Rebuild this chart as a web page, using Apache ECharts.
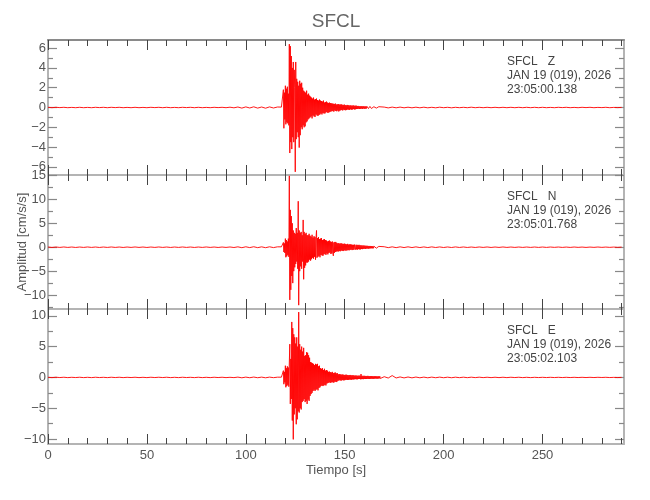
<!DOCTYPE html>
<html><head><meta charset="utf-8">
<script src="https://cdn.jsdelivr.net/npm/echarts@6/dist/echarts.min.js"></script>
<style>html,body{margin:0;padding:0;background:#fff}#c{width:650px;height:500px}</style>
</head><body><div id="c"></div>
<script>
// ---- time sampling of the hand-read traces ----
const PRE_T0 = 0, PRE_DT = 2;        // 0..116 s
const EV_T0 = 118, EV_DT = 0.25;     // 118..168 s
const POST_T0 = 170, POST_DT = 2;    // 170..290 s
const X_MAX = 291.2;

// ---- tick labels ----
const xMajorTicks = [0, 50, 100, 150, 200, 250];
const xMinorTicks = [10,20,30,40,60,70,80,90,110,120,130,140,160,170,180,190,210,220,230,240,260,270,280,290];
const zTicks = [-6, -4, -2, 0, 2, 4, 6];
const zMinor = [-5, -3, -1, 1, 3, 5];
const nTicks = [-10, -5, 0, 5, 10, 15];
const nMinor = [-12.5, -7.5, -2.5, 2.5, 7.5, 12.5];
const eTicks = [-10, -5, 0, 5, 10];
const eMinor = [-7.5, -2.5, 2.5, 7.5];

// ---- Z component (cm/s/s) ----
const zPre = [0.02,-0.02,0.02,-0.01,0.02,-0.02,0.01,-0.02,0.02,-0.02, 0.01,-0.02,0.02,-0.01,0.02,-0.02,0.02,-0.01,0.02,-0.02,
  0.01,-0.02,0.02,-0.02,0.01,-0.02,0.02,-0.01,0.02,-0.02, 0.02,-0.02,0.01,-0.02,0.02,-0.01,0.02,-0.02,0.02,-0.02,
  0.01,-0.02,0.02,-0.01,0.02,-0.02,0.03,-0.03,0.05,-0.06, 0.06,-0.05,0.07,-0.06,0.05,-0.07,0.06,-0.05,0.05];
const zEvent = [0.04,-0.05,0.06,-0.03, 1.8,-2.1,1.5,-1.2, 2.2,-1.7,1.9,-1.5,2.1,-1.6,1.4,-1.8,
  6.4,-4.6,6.2,-3.5, 5.2,-4.2,4.0,-3.0, 4.6,-3.5,3.8,2.0,
  -6.5,4.6,-3.2,2.9,-2.5,2.6,-3.0,2.2, -4.05,2.7,-2.8,2.4,-2.0,
  2.5,-2.2,2.0,-1.8,1.7,-2.0,1.6,-1.9, 1.5,-1.5,1.7,-1.4,1.3,-1.2,1.4,-1.1,1.2,-1.0,
  1.1,-0.9,1.0,-1.1,0.9,-0.8,1.0,-0.9,0.8,-0.95,0.85,-0.7,0.9,-0.8,0.75,-0.85,0.7,-0.75,0.8,-0.7,
  0.7,-0.6,0.65,-0.7,0.6,-0.55,0.7,-0.6,0.5,-0.6,0.55,-0.5,0.6,-0.45,0.5,-0.55,0.45,-0.5,0.5,-0.45,
  0.45,-0.4,0.42,-0.38,0.4,-0.35,0.38,-0.42,0.35,-0.3,0.4,-0.35,0.3,-0.38,0.32,-0.3,0.35,-0.4,0.3,-0.32,
  0.3,-0.28,0.32,-0.25,0.28,-0.3,0.25,-0.22,0.3,-0.26,0.24,-0.28,0.22,-0.25,0.26,-0.2,0.24,-0.22,0.2,-0.24,
  0.22,-0.18,0.2,-0.22,0.18,-0.2,0.22,-0.16,0.18,-0.2,0.17,-0.18,0.2,-0.15,
  0.15,-0.14,0.16,-0.12,0.14,-0.15,0.12,-0.13,0.14,-0.11,0.12,-0.14,0.13,-0.1,0.12,-0.12,0.1,-0.11,0.12,-0.1,
  0.11,-0.09,0.1,-0.11,0.09,-0.1,0.11,-0.08,0.09,-0.1,0.08,-0.09,0.1,-0.07,0.08,-0.09,0.07,-0.08,0.09,-0.06,
  0.07,-0.08,0.06,-0.07,0.08,-0.06,0.07,-0.05];
const zPost = [0.04,-0.04,0.04,-0.03,0.04,-0.03,0.03,-0.03,0.03,-0.03, 0.03,-0.03,0.02,-0.03,0.03,-0.02,0.02,-0.03,0.02,-0.02,
  0.02,-0.02,0.03,-0.02,0.02,-0.02,0.02,-0.02,0.02,-0.02, 0.02,-0.02,0.02,-0.02,0.02,-0.02,0.02,-0.02,0.02,-0.02,
  0.02,-0.02,0.01,-0.02,0.02,-0.01,0.02,-0.02,0.01,-0.02, 0.02,-0.01,0.02,-0.02,0.01,-0.01,0.02,-0.02,0.01,-0.01,0.01];

// ---- N component ----
const nPre = [0.04,-0.05,0.04,-0.04,0.05,-0.04,0.04,-0.05,0.04,-0.04, 0.05,-0.04,0.04,-0.05,0.04,-0.04,0.05,-0.04,0.04,-0.05,
  0.04,-0.04,0.05,-0.04,0.04,-0.05,0.04,-0.04,0.05,-0.04, 0.04,-0.05,0.04,-0.04,0.05,-0.04,0.04,-0.05,0.04,-0.04,
  0.05,-0.04,0.04,-0.05,0.04,-0.04,0.05,-0.06,0.08,-0.1, 0.09,-0.08,0.1,-0.09,0.08,-0.1,0.09,-0.08,0.08];
const nEvent = [0.08,-0.1,0.06,-0.09, 1.0,-1.0,0.8,-1.2, 1.8,-2.1,1.5,-1.9,1.2,-1.6,1.8,-2.0,
  14.9,-11.0, 7.8,-8.9,6.5,-6.0,5.0,-7.5, 3.5,-5.0,3.0,-4.2,2.8,-3.5,4.0,-3.0,
  3.0,-4.5,9.6,-12.1, 3.5,-5.0,3.0,-4.0,3.2,-4.5, 2.5,-3.0,5.7,-6.7,
  3.2,-4.3,2.8,-3.8,3.0,-3.2,2.5,-3.2,
  2.5,-3.0,2.8,-2.6,2.4,-2.8,2.2,-2.5,2.6,-2.2,2.0,-2.4,2.3,-2.0,2.1,-2.6,2.0, 3.5,
  -2.2,1.9,-2.0,2.1,-1.8,1.7,-2.1,1.8,-1.6,1.9,-1.7,1.5,-1.8,1.6,-1.5,1.7,-1.4,1.5,-1.6,
  1.4,-1.3,1.2,-1.5,1.3,-1.2,1.4,-1.1,1.2,-1.4,1.1,-1.3,1.2,-1.1,-1.8,1.0,-1.2,1.1,-1.0,1.1,
  -0.9,0.9,-0.85,0.8,-0.9,0.85,-0.8,0.75,-0.85,0.8,-0.7,0.8,-0.75,0.7,-0.8,0.7,-0.65,0.75,-0.7,0.65,
  -0.7,0.6,-0.65,0.7,-0.6,0.55,-0.65,0.6,-0.55,0.6,-0.5,0.55,-0.6,0.5,-0.55,0.5,-0.5,0.55,0.85,-0.5,
  0.5,-0.45,0.5,-0.5,0.45,-0.4,0.5,-0.45,0.4,-0.45,
  0.4,-0.38,0.35,-0.4,0.36,-0.32,0.35,-0.3,0.32,-0.34,0.3,-0.28,0.3,-0.27,0.28,-0.3,0.25,-0.26,0.27,-0.24,
  0.25,-0.22,0.24,-0.23,0.2,-0.22,0.21,-0.2,0.2,-0.18,0.19,-0.2,0.17,-0.18,0.18,-0.16,0.17,-0.15,0.16,-0.15];
const nPost = [0.1,-0.09,0.08,-0.09,0.08,-0.07,0.08,-0.07,0.07,-0.07, 0.06,-0.07,0.07,-0.06,0.06,-0.06,0.05,-0.06,0.06,-0.05,
  0.05,-0.05,0.04,-0.05,0.05,-0.04,0.05,-0.05,0.04,-0.04, 0.05,-0.04,0.04,-0.04,0.04,-0.04,0.04,-0.04,0.04,-0.04,
  0.04,-0.04,0.04,-0.03,0.04,-0.04,0.03,-0.04,0.04,-0.03, 0.03,-0.04,0.03,-0.03,0.04,-0.03,0.03,-0.03,0.03,-0.03,0.03];

// ---- E component ----
const ePre = [0.02,-0.03,0.03,-0.02,0.03,-0.03,0.02,-0.02,0.03,-0.03, 0.02,-0.03,0.03,-0.02,0.02,-0.03,0.03,-0.02,0.03,-0.03,
  0.02,-0.02,0.03,-0.03,0.02,-0.03,0.03,-0.02,0.03,-0.02, 0.03,-0.03,0.02,-0.03,0.03,-0.02,0.02,-0.03,0.03,-0.03,
  0.02,-0.03,0.03,-0.02,0.03,-0.03,0.02,-0.03,0.05,-0.06, 0.05,-0.05,0.06,-0.05,0.05,-0.06,0.05,-0.04,0.04];
const eEvent = [0.04,-0.05,0.05,-0.04, 1.1,-1.1,0.9,-0.8, 1.9,-1.6,1.5,-1.4,1.8,-1.2,1.6,-1.5,
  2.5,5.4,-4.3,3.0, -3.5,9.0,-7.0,8.0,-10.05,7.0,-6.0,6.5,
  -5.0,5.5,-7.6,6.5,-6.8,5.0,-5.5,10.6, -5.7,5.4,-5.0,4.5,-5.2,5.0,-4.0,4.2,
  -3.8,4.8,-3.5,3.5,-4.0,3.6,-3.8,4.1, -4.3,4.0,-3.6,3.6,-3.8,3.2,-3.0,2.5,
  -2.7,2.4,-2.5,2.3,-2.2,2.2,-2.0,2.0, -2.2,2.2,-2.0,2.1,-1.9,2.2,-2.1,1.8,-1.7,1.9,-1.6,1.5,
  -1.4,1.4,-1.3,1.5,-1.4,1.2,-1.3,1.4,-1.2,1.1,-1.3,1.2,-1.0,1.1,
  -0.9,0.9,-0.85,0.95,-0.8,0.85,-0.9,0.8,-0.75,0.9,-0.8,0.7,-0.85,0.75,-0.7,0.8,-0.7,0.65,-0.75,0.7,
  -0.55,0.5,-0.5,0.55,-0.45,0.5,-0.5,0.45,-0.5,0.48,-0.42,0.45,-0.48,0.4,-0.45,0.42,-0.4,0.45,-0.38,0.4,
  -0.42,0.36,-0.4,0.38,-0.35,0.4,-0.36,0.34,-0.38,0.35,-0.32,0.36,-0.33,0.3,
  -0.3,0.3,-0.28,0.32,-0.3,0.27,-0.3,0.28,-0.26,0.29,-0.25,0.28,-0.3,0.55,-0.28,0.26,-0.27,0.25,-0.28,0.26,
  -0.24,0.25,-0.26,0.23,-0.25,0.24,-0.22,0.25,-0.23,0.22,-0.24,0.21,-0.22,0.23,-0.2,0.22,-0.21,0.2,-0.22,0.19,
  -0.2,0.21,-0.18,0.2,-0.19,0.18,-0.2,0.17,-0.18,0.19,-0.16,0.18,-0.17];
const ePost = [0.12,-0.1,0.3,-0.09,0.08,-0.08,0.07,-0.07,0.06,-0.06, 0.05,-0.06,0.05,-0.05,0.05,-0.05,0.04,-0.05,0.04,-0.04,
  0.04,-0.04,0.04,-0.03,0.04,-0.03,0.03,-0.03,0.03,-0.03, 0.03,-0.03,0.03,-0.02,0.03,-0.03,0.02,-0.03,0.02,-0.02,
  0.02,-0.02,0.02,-0.02,0.02,-0.02,0.02,-0.02,0.02,-0.02, 0.02,-0.02,0.02,-0.02,0.02,-0.01,0.02,-0.02,0.01,-0.02,0.01];

// ---- panel texts ----
const stationName = 'SFCL';
const components = ['Z', 'N', 'E'];
const dateText = 'JAN 19 (019), 2026';
const startTimes = ['23:05:00.138', '23:05:01.768', '23:05:02.103'];

const FONT = "'Liberation Sans Narrow', 'Liberation Sans', Arial, sans-serif";

function build(pre, ev, post) {
  const d = [];
  pre.forEach((v, i) => d.push([PRE_T0 + i * PRE_DT, v]));
  ev.forEach((v, i) => d.push([EV_T0 + i * EV_DT, v]));
  post.forEach((v, i) => d.push([POST_T0 + i * POST_DT, v]));
  return d;
}

const panels = [
  { data: build(zPre, zEvent, zPost), min: -6.82, max: 6.82, major: zTicks, minor: zMinor, top: 40, h: 135 },
  { data: build(nPre, nEvent, nPost), min: -12.9, max: 15.08, major: nTicks, minor: nMinor, top: 175, h: 134 },
  { data: build(ePre, eEvent, ePost), min: -10.8, max: 11.1, major: eTicks, minor: eMinor, top: 309, h: 135 }
];

const grids = [], xAxes = [], yAxes = [], series = [], graphics = [];
const fmt = v => String(v).replace('-', '\u2212');

panels.forEach((p, k) => {
  grids.push({ left: 48, right: 26, top: p.top, height: p.h });
  const isLast = k === panels.length - 1;
  ['bottom', 'top'].forEach(pos => {
    [true, false].forEach(major => {
      xAxes.push({
        type: 'value', gridIndex: k, position: pos, min: 0, max: X_MAX,
        axisLine: { show: major, onZero: false,
          lineStyle: { color: pos === 'top' && k === 0 ? '#8a8a8a' : '#b4b4b4', width: 2 } },
        axisTick: { show: true, inside: true, length: major ? 10 : 6,
          customValues: major ? xMajorTicks : xMinorTicks, lineStyle: { color: '#444', width: 1 } },
        axisLabel: { show: major && pos === 'bottom' && isLast, customValues: xMajorTicks, margin: 5,
          color: '#555', fontSize: 13, fontFamily: FONT, formatter: fmt },
        splitLine: { show: false }
      });
    });
  });
  ['left', 'right'].forEach(pos => {
    [true, false].forEach(major => {
      yAxes.push({
        type: 'value', gridIndex: k, position: pos, min: p.min, max: p.max,
        axisLine: { show: major, onZero: false, lineStyle: { color: '#b4b4b4', width: 2 } },
        axisTick: { show: true, inside: true, length: major ? 9 : 5,
          customValues: major ? p.major : p.minor, lineStyle: { color: '#888', width: 1.2 } },
        axisLabel: { show: major && pos === 'left', customValues: p.major, margin: 2,
          color: '#555', fontSize: 13, fontFamily: FONT, formatter: fmt },
        splitLine: { show: false }
      });
    });
  });
  series.push({
    type: 'line', xAxisIndex: k * 4, yAxisIndex: k * 4, data: p.data,
    showSymbol: false, symbol: 'none', sampling: null, animation: false, clip: true,
    lineStyle: { color: '#ff0000', width: 0.9 }, z: 5
  });
  const lines = [stationName + '   ' + components[k], dateText, startTimes[k]];
  lines.forEach((t, j) => {
    graphics.push({ type: 'text', left: 507, top: p.top + 16 + j * 14,
      style: { text: t, fill: '#444', font: '12px ' + FONT } });
  });
});

graphics.push({ type: 'text', x: 336, y: 22,
  style: { text: stationName, fill: '#666', font: '19px ' + FONT, textAlign: 'center', textVerticalAlign: 'middle' } });
graphics.push({ type: 'text', x: 336, y: 470,
  style: { text: 'Tiempo [s]', fill: '#555', font: '13px ' + FONT, textAlign: 'center', textVerticalAlign: 'middle' } });
graphics.push({ type: 'text', x: 22, y: 242, rotation: Math.PI / 2,
  style: { text: 'Amplitud [cm/s/s]', fill: '#555', font: '13px ' + FONT, textAlign: 'center', textVerticalAlign: 'middle' } });

const chart = echarts.init(document.getElementById('c'), null, { renderer: 'canvas' });
chart.setOption({
  animation: false, backgroundColor: '#fff',
  grid: grids, xAxis: xAxes, yAxis: yAxes, series: series, graphic: graphics
});
</script></body></html>
